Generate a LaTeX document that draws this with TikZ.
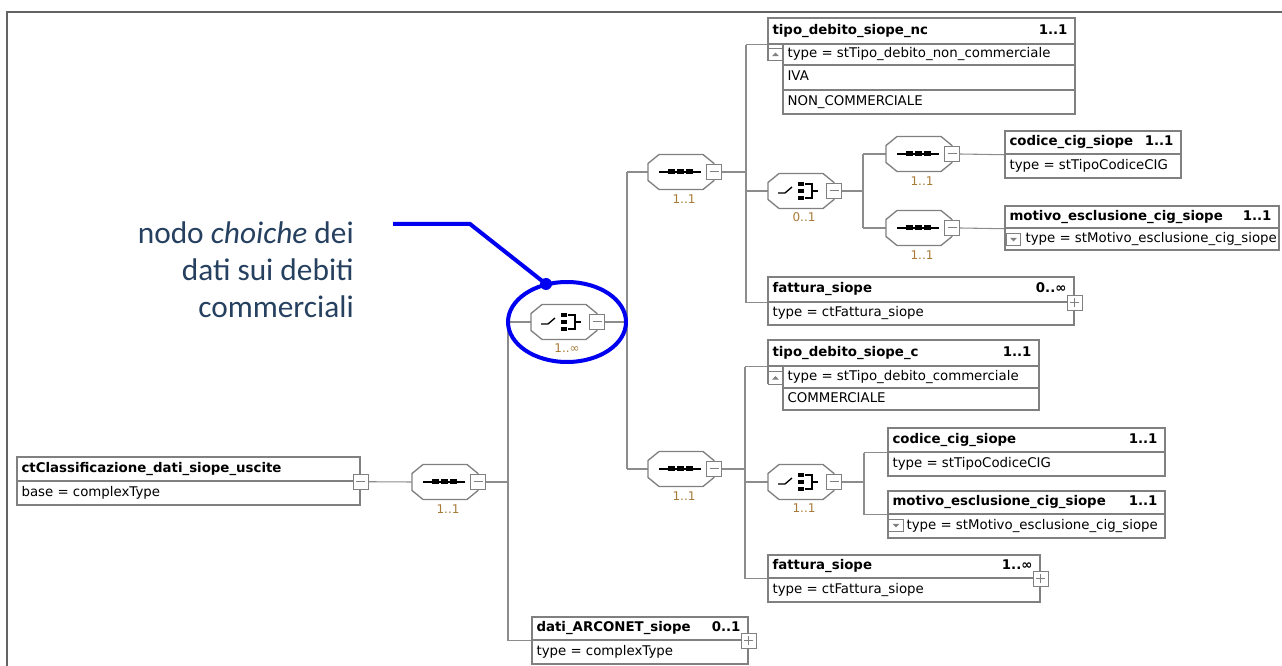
\documentclass[tikz,border=0pt]{standalone}
\usepackage{fontspec}
\setmainfont{DejaVu Sans}
\newfontfamily\annotfont{Carlito}
\usetikzlibrary{calc,fit,shapes.geometric}
\pgfdeclarelayer{bg}
\pgfsetlayers{bg,main}
\definecolor{boxgray}{RGB}{128,128,128}
\definecolor{linegray}{RGB}{140,140,140}
\definecolor{framegray}{RGB}{100,100,100}
\definecolor{cardcol}{RGB}{168,122,56}
\definecolor{annotcol}{RGB}{38,64,96}
\definecolor{markblue}{RGB}{0,0,240}

\tikzset{
 conn/.style={draw=linegray, line width=0.8pt},
 elbox/.style={draw=boxgray, line width=1.1pt, fill=white, inner sep=0pt},
 hdrtxt/.style={anchor=west, font=\fontsize{10}{12}\selectfont\bfseries, inner sep=0pt, text height=7.3pt, text depth=2.2pt},
 cardtxt/.style={anchor=east, font=\fontsize{10}{12}\selectfont\bfseries, inner sep=0pt, text height=7.3pt, text depth=2.2pt},
 bodytxt/.style={anchor=west, font=\fontsize{10}{12}\selectfont, inner sep=0pt, text height=7.3pt, text depth=2.2pt},
 occ/.style={font=\fontsize{9}{11}\selectfont, text=cardcol, inner sep=0pt},
 pmbase/.style={draw=boxgray, line width=0.75pt, fill=white, minimum size=11pt, inner sep=0pt},
 pmminus/.style={pmbase, path picture={\draw[boxgray, line width=0.75pt] ([xshift=-3.5pt]path picture bounding box.center) -- ([xshift=3.5pt]path picture bounding box.center);}},
 pmplus/.style={pmbase, path picture={\draw[boxgray, line width=0.75pt] ([xshift=-3.5pt]path picture bounding box.center) -- ([xshift=3.5pt]path picture bounding box.center) ([yshift=-3.5pt]path picture bounding box.center) -- ([yshift=3.5pt]path picture bounding box.center);}},
 updnbox/.style={draw=boxgray, line width=0.75pt, fill=white, minimum width=11pt, minimum height=9.5pt, inner sep=0pt},
 uptri/.style={updnbox, path picture={\fill[gray] ([xshift=-2.5pt,yshift=-1.2pt]path picture bounding box.center) -- ([xshift=2.5pt,yshift=-1.2pt]path picture bounding box.center) -- ([yshift=1.5pt]path picture bounding box.center) -- cycle;}},
 dntri/.style={updnbox, path picture={\fill[gray] ([xshift=-2.5pt,yshift=1.2pt]path picture bounding box.center) -- ([xshift=2.5pt,yshift=1.2pt]path picture bounding box.center) -- ([yshift=-1.5pt]path picture bounding box.center) -- cycle;}},
 octline/.style={draw=boxgray, line width=1pt, fill=white},
 iconline/.style={draw=black, line width=1pt},
 octnode/.style={inner sep=0pt, minimum width=49.5pt, minimum height=26.25pt},
 markline/.style={draw=markblue, line width=3pt},
 annotxt/.style={font=\annotfont\fontsize{23.5}{27}\selectfont, text=annotcol, inner sep=0pt},
}

\newcommand{\octagon}[2]{%
 \draw[octline] (#1-22,#2-17.5) -- (#1+22,#2-17.5) -- (#1+33,#2-8.5) -- (#1+33,#2+8.5) -- (#1+22,#2+17.5) -- (#1-22,#2+17.5) -- (#1-33,#2+8.5) -- (#1-33,#2-8.5) -- cycle;}

\newcommand{\seqnode}[4]{%
 \node[octnode] (#1) at (#2,#3) {};
 \octagon{#2}{#3}
 \draw[iconline] (#2-22,#3) -- (#2+20,#3);
 \fill (#2-13.5,#3-2.5) rectangle (#2-6.5,#3+2.5);
 \fill (#2-4.5,#3-2.5) rectangle (#2+2.5,#3+2.5);
 \fill (#2+4.5,#3-2.5) rectangle (#2+11.5,#3+2.5);
 \node[pmminus] (#1-m) at (#1.east) {};
 \node[occ] at (#2+3,#3+27) {#4};}

\newcommand{\choicenode}[4]{%
 \node[octnode] (#1) at (#2,#3) {};
 \octagon{#2}{#3}
 \draw[iconline] (#2-23,#3+2) -- (#2-16,#3+2) -- (#2-9,#3-4);
 \fill (#2-3,#3-9.25) rectangle (#2+3,#3-4.75);
 \fill (#2-3,#3-2.25) rectangle (#2+3,#3+2.25);
 \fill (#2-3,#3+4.75) rectangle (#2+3,#3+9.25);
 \draw[iconline] (#2+4,#3-7) -- (#2+11,#3-7) -- (#2+11,#3+7) -- (#2+4,#3+7);
 \draw[iconline] (#2+11,#3) -- (#2+17,#3);
 \node[pmminus] (#1-m) at (#1.east) {};
 \node[occ] at (#2+3,#3+26) {#4};}

\newcommand{\elem}[9]{%
 \node[elbox, fit={(#2,#3) (#4,#5)}] (#1) {};
 \node[elbox, fit={(#2,#5) (#4,#6)}] (#1-b) {};
 \node[hdrtxt] at ($(#1.west)+(5,0)$) {#7};
 \node[cardtxt] at ($(#1.east)+(-8,0)$) {#8};
 \node[bodytxt] at ($(#1-b.west)+(5,0)$) {#9};}

\begin{document}
\begin{tikzpicture}[x=0.75pt,y=-0.75pt]
\useasboundingbox (0,0) rectangle (1282,666);

% outer frame
\draw[framegray, line width=1.5pt] (7,666) -- (7,12) -- (1282,12);

% bus coordinates
\coordinate (b0) at (508,0);
\coordinate (b1) at (627,0);
\coordinate (b2) at (746,0);
\coordinate (b3) at (863,0);
\coordinate (b4) at (745,0);
\coordinate (b5) at (864,0);

% root
\elem{root}{17}{457}{360}{481}{505}{ctClassificazione\_dati\_siope\_uscite}{}{base = complexType}
\node[pmminus] (root-m) at (root.south east) {};

\seqnode{s0}{445}{482}{1..1}
\choicenode{c0}{564}{322}{1..∞}

% upper branch
\seqnode{sA}{681}{172}{1..1}

\node[elbox, fit={(768,18) (1075,44)}] (nc) {};
\node[elbox, fit={(783,44) (1075,65)}] (nc-t) {};
\node[elbox, fit={(783,65) (1075,90)}] (nc-e1) {};
\node[elbox, fit={(783,90) (1075,114)}] (nc-e2) {};
\draw[boxgray, line width=1.1pt] (768,44) -- (768,61);
\node[uptri] (nc-u) at (775.5,54.5) {};
\node[hdrtxt] at ($(nc.west)+(5,0)$) {tipo\_debito\_siope\_nc};
\node[cardtxt] at ($(nc.east)+(-8,0)$) {1..1};
\node[bodytxt] at ($(nc-t.west)+(5,0)$) {type = stTipo\_debito\_non\_commerciale};
\node[bodytxt] at ($(nc-e1.west)+(5,0)$) {IVA};
\node[bodytxt] at ($(nc-e2.west)+(5,0)$) {NON\_COMMERCIALE};

\choicenode{cA}{801}{191}{0..1}
\seqnode{sA1}{919}{154}{1..1}
\seqnode{sA2}{919}{228}{1..1}

\elem{codA}{1005}{131}{1181}{154}{178}{codice\_cig\_siope}{1..1}{type = stTipoCodiceCIG}
\elem{motA}{1005}{206}{1279}{228}{250}{motivo\_esclusione\_cig\_siope}{1..1}{}
\node[dntri] (motA-d) at (1013.5,239.5) {};
\node[bodytxt] at ($(motA-b.west)+(21,0)$) {type = stMotivo\_esclusione\_cig\_siope};

\elem{fatA}{768}{277}{1074}{302}{325}{fattura\_siope}{0..∞}{type = ctFattura\_siope}
\node[pmplus] (fatA-p) at (fatA.south east) {};

% lower branch
\node[elbox, fit={(768,340) (1039,366)}] (tdc) {};
\node[elbox, fit={(783,366) (1039,388)}] (tdc-t) {};
\node[elbox, fit={(783,388) (1039,410)}] (tdc-e1) {};
\draw[boxgray, line width=1.1pt] (768,366) -- (768,384);
\node[uptri] (tdc-u) at (775.5,378) {};
\node[hdrtxt] at ($(tdc.west)+(5,0)$) {tipo\_debito\_siope\_c};
\node[cardtxt] at ($(tdc.east)+(-8,0)$) {1..1};
\node[bodytxt] at ($(tdc-t.west)+(5,0)$) {type = stTipo\_debito\_commerciale};
\node[bodytxt] at ($(tdc-e1.west)+(5,0)$) {COMMERCIALE};

\seqnode{sB}{681}{469}{1..1}
\choicenode{chB}{801}{482}{1..1}

\elem{codB}{888}{428}{1165}{452}{476}{codice\_cig\_siope}{1..1}{type = stTipoCodiceCIG}
\elem{motB}{888}{491}{1165}{514}{538}{motivo\_esclusione\_cig\_siope}{1..1}{}
\node[dntri] (motB-d) at (896,525.5) {};
\node[bodytxt] at ($(motB-b.west)+(19,0)$) {type = stMotivo\_esclusione\_cig\_siope};

\elem{fatB}{768}{555}{1040}{578}{602}{fattura\_siope}{1..∞}{type = ctFattura\_siope}
\node[pmplus] (fatB-p) at (fatB.south east) {};

\elem{dati}{532}{617}{748}{640}{664}{dati\_ARCONET\_siope}{0..1}{type = complexType}
\node[pmplus] (dati-p) at (dati.south east) {};

% connectors
\begin{pgfonlayer}{bg}
\draw[conn] (root-m.east) -- (s0.west);
\draw[conn] (s0-m.east) -- (b0 |- s0-m.east);
\draw[conn] (b0 |- c0.west) -- (b0 |- dati.south west);
\draw[conn] (b0 |- c0.west) -- (c0.west);
\draw[conn] (b0 |- dati.south west) -- (dati.south west);
\draw[conn] (c0-m.east) -- (b1 |- c0-m.east);
\draw[conn] (b1 |- sA.west) -- (b1 |- sB.west);
\draw[conn] (b1 |- sA.west) -- (sA.west);
\draw[conn] (b1 |- sB.west) -- (sB.west);
\draw[conn] (sA-m.east) -- (b2 |- sA-m.east);
\draw[conn] (b2 |- nc.south west) -- (b2 |- fatA.south west);
\draw[conn] (b2 |- nc.south west) -- (nc.south west);
\draw[conn] (b2 |- cA.west) -- (cA.west);
\draw[conn] (b2 |- fatA.south west) -- (fatA.south west);
\draw[conn] (cA-m.east) -- (b3 |- cA-m.east);
\draw[conn] (b3 |- sA1.west) -- (b3 |- sA2.west);
\draw[conn] (b3 |- sA1.west) -- (sA1.west);
\draw[conn] (b3 |- sA2.west) -- (sA2.west);
\draw[conn] (sA1-m.east) -- (codA.south west);
\draw[conn] (sA2-m.east) -- (motA.south west);
\draw[conn] (sB-m.east) -- (b4 |- sB-m.east);
\draw[conn] (b4 |- tdc.south west) -- (b4 |- fatB.south west);
\draw[conn] (b4 |- tdc.south west) -- (tdc.south west);
\draw[conn] (b4 |- chB.west) -- (chB.west);
\draw[conn] (b4 |- fatB.south west) -- (fatB.south west);
\draw[conn] (chB-m.east) -- (b5 |- chB-m.east);
\draw[conn] (b5 |- codB.south west) -- (b5 |- motB.south west);
\draw[conn] (b5 |- codB.south west) -- (codB.south west);
\draw[conn] (b5 |- motB.south west) -- (motB.south west);
\end{pgfonlayer}

% annotation
\node[annotxt, anchor=base east] (n1) at (354,244) {nodo \textit{choiche} dei};
\node[annotxt, anchor=base east] (n2) at (354,281) {dati sui debiti};
\node[annotxt, anchor=base east] (n3) at (354,318) {commerciali};
\node[draw=markblue, line width=3pt, ellipse, minimum width=88.5pt, minimum height=60pt, inner sep=0pt] (ell) at (567,322) {};
\node[circle, fill=markblue, minimum size=9pt, inner sep=0pt] (dot) at (546,284) {};
\coordinate (p0) at (393,224);
\coordinate (p1) at (470,224);
\draw[markline] (p0) -- (p1) -- (dot.center);
\end{tikzpicture}
\end{document}
